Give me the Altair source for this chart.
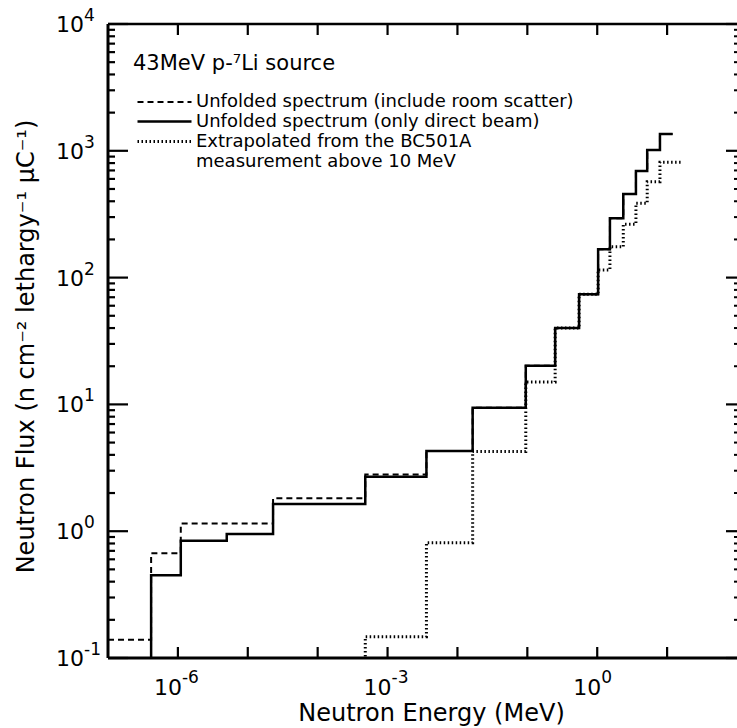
import altair as alt
import pandas as pd

# ---------------- data ----------------
# bin edges (MeV) shared by the two unfolded spectra
edges_main = [1e-7, 4.14e-7, 1.1e-6, 5.0e-6, 2.3e-5, 4.8e-4, 3.6e-3, 1.65e-2,
              0.095, 0.25, 0.55, 1.03, 1.52, 2.36, 3.58, 5.19, 7.9, 12.0]
# flux per bin (n cm^-2 lethargy^-1 uC^-1)
direct_beam = [0.05, 0.45, 0.84, 0.95, 1.64, 2.69, 4.3, 9.4, 20.2, 40.0,
               73.8, 167, 294, 456, 693, 1013, 1356]
room_scatter = [0.139, 0.67, 1.15, 1.15, 1.82, 2.8, 4.3, 9.4, 20.2, 40.0,
                73.8, 167, 294, 456, 693, 1013, 1356]
# extrapolated (BC501A) spectrum
edges_extrap = [2.3e-5, 4.8e-4, 3.6e-3, 1.65e-2, 0.095, 0.25, 0.55, 1.03,
                1.52, 2.36, 3.58, 5.19, 7.9, 16.1]
extrapolated = [0.05, 0.147, 0.81, 4.25, 15.0, 40.0, 73.8, 115, 175, 264,
                385, 571, 813]

# axis ticks and labels
x_major_ticks = [1e-6, 1e-5, 1e-4, 1e-3, 1e-2, 1e-1, 1.0, 10.0]
y_major_ticks = [0.1, 1.0, 10.0, 100.0, 1000.0, 10000.0]
y_minor_ticks = [k * 10.0 ** n for n in range(-1, 4) for k in range(2, 10)]
x_label_values = [1e-6, 1e-3, 1.0]
x_label_exps = ["-6", "-3", "0"]
y_label_values = [0.1, 1.0, 10.0, 100.0, 1000.0, 10000.0]
y_label_exps = ["-1", "0", "1", "2", "3", "4"]

S_ROOM = "Unfolded spectrum (include room scatter)"
S_DIRECT = "Unfolded spectrum (only direct beam)"
S_EXTRAP = "Extrapolated from the BC501A measurement above 10 MeV"
series_order = [S_ROOM, S_DIRECT, S_EXTRAP]

FONT = "DejaVu Sans"
X_MIN, X_MAX = 1e-7, 1e2
Y_MIN, Y_MAX = 0.1, 1e4


def steps(edges, vals, name):
    rows = [{"E": e, "F": v, "series": name} for e, v in zip(edges, vals)]
    rows.append({"E": edges[len(vals)], "F": vals[-1], "series": name})
    return rows


df = pd.DataFrame(steps(edges_main, room_scatter, S_ROOM)
                  + steps(edges_extrap, extrapolated, S_EXTRAP)
                  + steps(edges_main, direct_beam, S_DIRECT))

xscale = alt.Scale(type="log", domain=[X_MIN, X_MAX], nice=False)
yscale = alt.Scale(type="log", domain=[Y_MIN, Y_MAX], nice=False)

x_axis = alt.Axis(
    title="Neutron Energy (MeV)", labels=False, ticks=False, domain=False, grid=False,
    titleX=323, titleY=62, titleAlign="center", titleBaseline="alphabetic",
    titleFont=FONT, titleFontSize=24, titleFontWeight="normal", titleColor="black")
y_axis = alt.Axis(
    title="Neutron Flux (n cm\u207b\u00b2 lethargy\u207b\u00b9 \u03bcC\u207b\u00b9)",
    labels=False, ticks=False, domain=False, grid=False,
    titleX=-75, titleY=322, titleAngle=270, titleAlign="center", titleBaseline="alphabetic",
    titleFont=FONT, titleFontSize=24, titleFontWeight="normal", titleColor="black")

legend_kw = dict(
    title="43MeV p-\u2077Li source", orient="none", legendX=25, legendY=29,
    symbolType="M-3,0H3", symbolSize=324, symbolStrokeColor="black", symbolOffset=21,
    titleFont=FONT, titleFontSize=21, titleFontWeight="normal", titleColor="black",
    titleLimit=600, titlePadding=18, labelFont=FONT, labelFontSize=18, labelColor="black",
    labelLimit=700, labelOffset=21, rowPadding=0,
    labelExpr="datum.label == '" + S_EXTRAP + "' ? ['Extrapolated from the BC501A', 'measurement above 10 MeV'] : datum.label",
)

lines = alt.Chart(df).mark_line(interpolate="step-after", clip=True, color="black").encode(
    x=alt.X("E:Q", scale=xscale, axis=x_axis),
    y=alt.Y("F:Q", scale=yscale, axis=y_axis),
    strokeDash=alt.StrokeDash("series:N", scale=alt.Scale(domain=series_order,
                              range=[[6, 4], [1, 0], [1.5, 2.5]]), legend=alt.Legend(**legend_kw)),
    strokeWidth=alt.StrokeWidth("series:N", scale=alt.Scale(domain=series_order,
                                range=[2.0, 3.0, 1.4]), legend=alt.Legend(**legend_kw)),
)

one = pd.DataFrame({"a": [0]})
ymaj = pd.DataFrame({"v": y_major_ticks})
ymin = pd.DataFrame({"v": y_minor_ticks})
xmaj = pd.DataFrame({"v": x_major_ticks})

frame_left = alt.Chart(one).mark_rule(color="black", strokeWidth=3).encode(
    x=alt.datum(X_MIN), y=alt.datum(Y_MIN), y2=alt.datum(Y_MAX))
frame_bottom = alt.Chart(one).mark_rule(color="black", strokeWidth=3).encode(
    y=alt.datum(Y_MIN), x=alt.datum(X_MIN), x2=alt.datum(X_MAX))
frame_top = alt.Chart(one).mark_rule(color="black", strokeWidth=2.5).encode(
    y=alt.datum(Y_MAX), x=alt.datum(X_MIN), x2=alt.datum(X_MAX))

yv = alt.Y("v:Q", scale=yscale, axis=y_axis)
xv = alt.X("v:Q", scale=xscale, axis=x_axis)

tick_left_major = alt.Chart(ymaj).mark_rule(color="black", strokeWidth=2.2, x2Offset=20).encode(
    x=alt.datum(X_MIN), x2=alt.datum(X_MIN), y=yv)
tick_left_minor = alt.Chart(ymin).mark_rule(color="black", strokeWidth=2.2, x2Offset=7).encode(
    x=alt.datum(X_MIN), x2=alt.datum(X_MIN), y=yv)
tick_right_major = alt.Chart(ymaj).mark_rule(color="black", strokeWidth=2.2, x2Offset=-11).encode(
    x=alt.datum(X_MAX), x2=alt.datum(X_MAX), y=yv)
tick_right_minor = alt.Chart(ymin).mark_rule(color="black", strokeWidth=2.0, x2Offset=-3).encode(
    x=alt.datum(X_MAX), x2=alt.datum(X_MAX), y=yv)
tick_bottom = alt.Chart(xmaj).mark_rule(color="black", strokeWidth=2.2, y2Offset=-11).encode(
    y=alt.datum(Y_MIN), y2=alt.datum(Y_MIN), x=xv)
tick_top = alt.Chart(xmaj).mark_rule(color="black", strokeWidth=2.2, y2Offset=11).encode(
    y=alt.datum(Y_MAX), y2=alt.datum(Y_MAX), x=xv)

xlab = pd.DataFrame({"v": x_label_values, "exp": x_label_exps, "base": ["10"] * 3})
ylab = pd.DataFrame({"v": y_label_values, "exp": y_label_exps, "base": ["10"] * 6})

xlab_base = alt.Chart(xlab).mark_text(font=FONT, fontSize=22, align="right", baseline="middle",
                                      dx=4, dy=30, color="black").encode(
    x=xv, y=alt.datum(Y_MIN), text="base:N")
xlab_exp = alt.Chart(xlab).mark_text(font=FONT, fontSize=17, align="left", baseline="middle",
                                     dx=4, dy=20, color="black").encode(
    x=xv, y=alt.datum(Y_MIN), text="exp:N")
ylab_base = alt.Chart(ylab).mark_text(font=FONT, fontSize=22, align="right", baseline="middle",
                                      dx=-24, dy=1, color="black").encode(
    x=alt.datum(X_MIN), y=yv, text="base:N")
ylab_exp = alt.Chart(ylab).mark_text(font=FONT, fontSize=17, align="left", baseline="middle",
                                     dx=-24, dy=-8, color="black").encode(
    x=alt.datum(X_MIN), y=yv, text="exp:N")

chart = alt.layer(
    lines, frame_left, frame_bottom, frame_top,
    tick_left_major, tick_left_minor, tick_right_major, tick_right_minor,
    tick_bottom, tick_top, xlab_base, xlab_exp, ylab_base, ylab_exp,
).properties(
    width=629, height=634,
    autosize=alt.AutoSizeParams(type="none"),
    padding={"left": 108, "top": 24, "right": 0, "bottom": 70},
    background="white",
).configure_view(stroke=None)

chart.save("out.html", embed_options={"renderer": "svg", "actions": False})
